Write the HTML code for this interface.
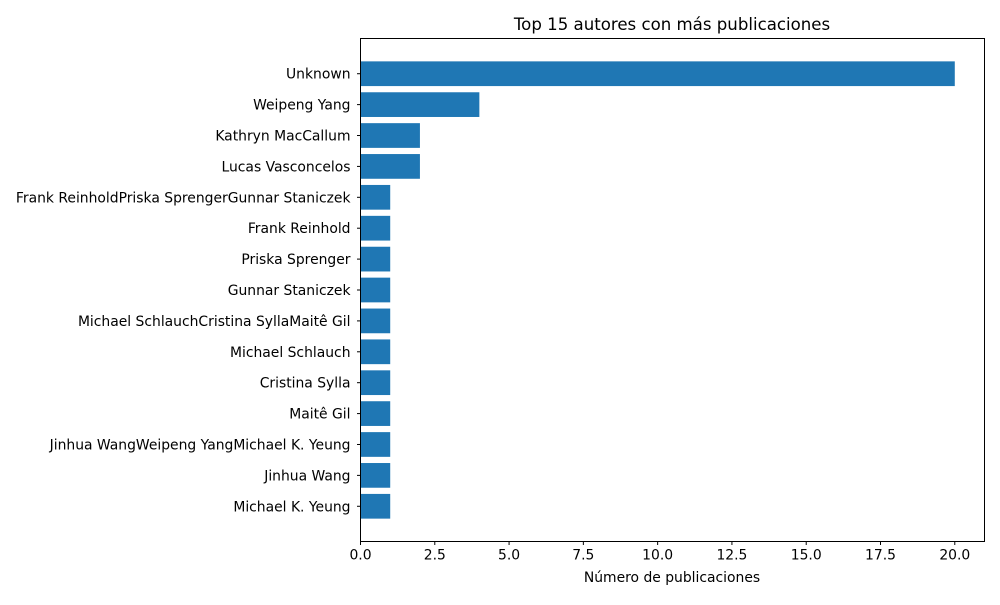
<!DOCTYPE html>
<html><head><meta charset="utf-8"><style>
body{margin:0;background:#fff;}
text{font-family:"DejaVu Sans","Liberation Sans",sans-serif;}
</style></head><body>
<svg id="chart" width="1000" height="600" xmlns="http://www.w3.org/2000/svg">
<rect width="1000" height="600" fill="#fff"/>
<text x="672" y="30" font-size="16.6" text-anchor="middle">Top 15 autores con más publicaciones</text>
<g id="bars"></g>
<g id="yticks"></g>
<g id="xticks"></g>
<rect x="360.5" y="38.5" width="624" height="503" fill="none" stroke="#000" stroke-width="1"/>
<text x="672" y="582" font-size="13.9" text-anchor="middle">Número de publicaciones</text>
</svg>
<script>
const authors = ["Unknown","Weipeng Yang","Kathryn MacCallum","Lucas Vasconcelos","Frank ReinholdPriska SprengerGunnar Staniczek","Frank Reinhold","Priska Sprenger","Gunnar Staniczek","Michael SchlauchCristina SyllaMaitê Gil","Michael Schlauch","Cristina Sylla","Maitê Gil","Jinhua WangWeipeng YangMichael K. Yeung","Jinhua Wang","Michael K. Yeung"];
const counts = [20,4,2,2,1,1,1,1,1,1,1,1,1,1,1];
const xTicks = [0,2.5,5,7.5,10,12.5,15,17.5,20];
const NS="http://www.w3.org/2000/svg";
const L=360.5,R=984.5,T=38.5,B=541.5;
const xmax=Math.max(...counts)*1.05;
const xs=v=>L+v/xmax*(R-L);
const n=authors.length;
const ylo=-0.4-0.05*(n-1+0.8), yhi=n-1+0.4+0.05*(n-1+0.8);
const ys=i=>T+(i-ylo)/(yhi-ylo)*(B-T);
const bh=0.8*(B-T)/(yhi-ylo);
const gb=document.getElementById('bars'),gy=document.getElementById('yticks'),gx=document.getElementById('xticks');
authors.forEach((a,i)=>{
 const r=document.createElementNS(NS,'rect');
 r.setAttribute('x',xs(0));r.setAttribute('y',ys(i)-bh/2);
 r.setAttribute('width',xs(counts[i])-xs(0));r.setAttribute('height',bh);
 r.setAttribute('fill','#1f77b4');
 
 
 gb.appendChild(r);
 const tk=document.createElementNS(NS,'line');
 tk.setAttribute('x1',L-3.5);tk.setAttribute('x2',L);tk.setAttribute('y1',ys(i));tk.setAttribute('y2',ys(i));tk.setAttribute('stroke','#000');
 
 
 gy.appendChild(tk);
 const t=document.createElementNS(NS,'text');
 t.setAttribute('x',L-10);t.setAttribute('y',ys(i)+5);t.setAttribute('font-size','13.9');t.setAttribute('text-anchor','end');
 t.textContent=a;
 
 
 gy.appendChild(t);
});
xTicks.forEach(v=>{
 const tk=document.createElementNS(NS,'line');
 tk.setAttribute('x1',xs(v));tk.setAttribute('x2',xs(v));tk.setAttribute('y1',B);tk.setAttribute('y2',B+3.5);tk.setAttribute('stroke','#000');
 
 
 gx.appendChild(tk);
 const t=document.createElementNS(NS,'text');
 t.setAttribute('x',xs(v));t.setAttribute('y',B+18);t.setAttribute('font-size','13.9');t.setAttribute('text-anchor','middle');
 t.textContent=v.toFixed(1);
 
 
 gx.appendChild(t);
});
</script>
</body></html>
